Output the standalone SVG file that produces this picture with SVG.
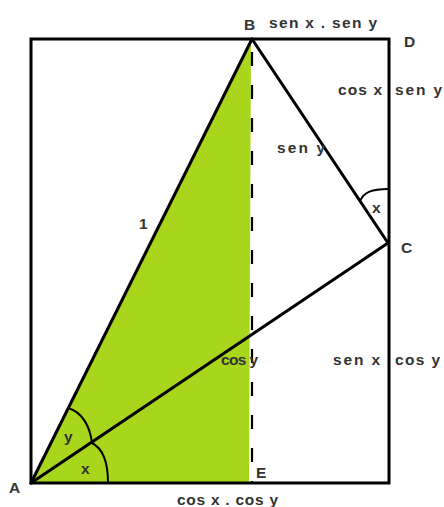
<svg xmlns="http://www.w3.org/2000/svg" width="444" height="507" viewBox="0 0 444 507">
<style>
.ln{stroke:#000;stroke-width:3;fill:none;stroke-linecap:round}
.arc{stroke:#000;stroke-width:2;fill:none}
.t{font-family:"Liberation Sans",Arial,sans-serif;font-weight:bold;font-size:15.5px;fill:#333}
</style>
<rect width="444" height="507" fill="#fff"/>
<polygon id="green" points="31,483 251,40 249,483" fill="#a8d61c"/>
<g id="connectors">
<rect class="ln" x="31" y="39" width="358" height="444" stroke-linecap="butt"/>
<line class="ln" x1="31" y1="483" x2="252" y2="39"/>
<line class="ln" x1="252" y1="39" x2="388" y2="243"/>
<line class="ln" x1="31" y1="483" x2="388" y2="243"/>
<line x1="252" y1="52" x2="252" y2="483" stroke="#000" stroke-width="2.2" stroke-dasharray="14 19"/>
<path class="arc" d="M68,408 C82,412 90,426 92,443"/>
<path class="arc" d="M92,443 C102,448 108,459 108,483"/>
<path class="arc" d="M360,201 C364,192 372,189 388,189"/>
</g>
<g id="labels">
<text class="t" x="244" y="30">B</text>
<text class="t" x="269" y="28" textLength="108" lengthAdjust="spacing">sen x . sen y</text>
<text class="t" x="404" y="47">D</text>
<text class="t" x="338" y="95" textLength="44" lengthAdjust="spacing">cos x</text>
<text class="t" x="395" y="95" textLength="47" lengthAdjust="spacing">sen y</text>
<text class="t" x="277" y="153" textLength="48" lengthAdjust="spacing">sen y</text>
<text class="t" x="139" y="229">1</text>
<text class="t" x="372" y="213">x</text>
<text class="t" x="401" y="253">C</text>
<text class="t" x="221" y="365" textLength="37" lengthAdjust="spacing">cos y</text>
<text class="t" x="333" y="365" textLength="47" lengthAdjust="spacing">sen x</text>
<text class="t" x="395" y="365" textLength="45" lengthAdjust="spacing">cos y</text>
<text class="t" x="64" y="442">y</text>
<text class="t" x="81" y="474">x</text>
<text class="t" x="9" y="493">A</text>
<text class="t" x="256" y="478" font-size="13">E</text>
<text class="t" x="177" y="505" textLength="101" lengthAdjust="spacing">cos x . cos y</text>
</g>
</svg>
